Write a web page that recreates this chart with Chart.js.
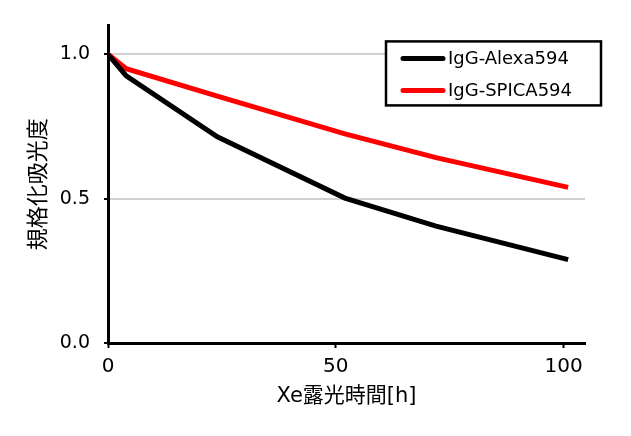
<!DOCTYPE html>
<html>
<head>
<meta charset="utf-8">
<script src="https://cdn.jsdelivr.net/npm/chart.js@4"></script>
<style>
  html, body { margin: 0; padding: 0; background: #fff; }
  #wrap { width: 631px; height: 436px; }
</style>
</head>
<body>
<div id="wrap"><canvas id="myChart"></canvas></div>
<script>
const hours = [0, 4, 24, 52, 72, 101];
const alexa = [1.0, 0.925, 0.714, 0.502, 0.405, 0.289];
const spica = [1.0, 0.95, 0.855, 0.724, 0.642, 0.539];
const xTicks = [0, 50, 100];
const yTicks = [0.0, 0.5, 1.0];

const font = "'DejaVu Sans', 'Noto Sans CJK JP', sans-serif";

// legend drawn inside the plot, with a black frame
const boxLegend = {
  id: 'boxLegend',
  afterDraw(chart) {
    const c = chart.ctx;
    const area = chart.chartArea;
    const x0 = area.right - 199, y0 = area.top + 16;
    const w = 215, h = 64;
    c.save();
    c.fillStyle = '#fff';
    c.fillRect(x0, y0, w, h);
    c.strokeStyle = '#000';
    c.lineWidth = 2.5;
    c.strokeRect(x0, y0, w, h);
    c.font = '18px ' + font;
    c.textBaseline = 'middle';
    chart.data.datasets.forEach((ds, i) => {
      const y = y0 + 17 + i * 32;
      c.strokeStyle = ds.borderColor;
      c.lineWidth = 5;
      c.lineCap = 'round';
      c.beginPath();
      c.moveTo(x0 + 17, y);
      c.lineTo(x0 + 57, y);
      c.stroke();
      c.fillStyle = '#000';
      c.fillText(ds.label, x0 + 62, y + 1);
    });
    c.restore();
  }
};

const ctx = document.getElementById('myChart');

new Chart(ctx, {
  type: 'line',
  data: {
    datasets: [
      {
        label: 'IgG-Alexa594',
        data: hours.map((h, i) => ({ x: h, y: alexa[i] })),
        borderColor: '#000',
        borderWidth: 5,
        pointRadius: 0,
        tension: 0
      },
      {
        label: 'IgG-SPICA594',
        data: hours.map((h, i) => ({ x: h, y: spica[i] })),
        borderColor: '#ff0000',
        borderWidth: 5,
        pointRadius: 0,
        tension: 0
      }
    ]
  },
  options: {
    responsive: true,
    maintainAspectRatio: false,
    animation: false,
    layout: { padding: { left: 0, right: 46, top: 22, bottom: 0 } },
    plugins: {
      tooltip: { enabled: false },
      legend: { display: false }
    },
    scales: {
      x: {
        type: 'linear',
        min: 0,
        max: 104.7,
        afterBuildTicks: axis => { axis.ticks = xTicks.map(v => ({ value: v })); },
        afterFit: axis => { axis.height = 93; },
        ticks: {
          color: '#000',
          font: { family: font, size: 20 },
          padding: 7,
          maxRotation: 0,
          callback: v => String(v)
        },
        grid: { drawOnChartArea: false, tickLength: 5, tickColor: '#000', tickWidth: 2 },
        border: { color: '#000', width: 3 },
        title: {
          display: true,
          text: 'Xe露光時間[h]',
          color: '#000',
          font: { family: font, size: 21 },
          padding: { top: 0, bottom: 27 }
        }
      },
      y: {
        min: 0,
        max: 1.1,
        afterBuildTicks: axis => { axis.ticks = yTicks.map(v => ({ value: v })); },
        afterFit: axis => { axis.width = 108; },
        ticks: {
          color: '#000',
          font: { family: font, size: 19 },
          padding: 14,
          callback: v => v.toFixed(1)
        },
        grid: { color: '#d0d0d0', lineWidth: 2, tickLength: 4, tickColor: '#000', tickWidth: 2 },
        border: { color: '#000', width: 3 },
        title: {
          display: true,
          text: '規格化吸光度',
          color: '#000',
          font: { family: font, size: 22 },
          padding: { top: 26, bottom: 0 }
        }
      }
    }
  },
  plugins: [boxLegend]
});
</script>
</body>
</html>
